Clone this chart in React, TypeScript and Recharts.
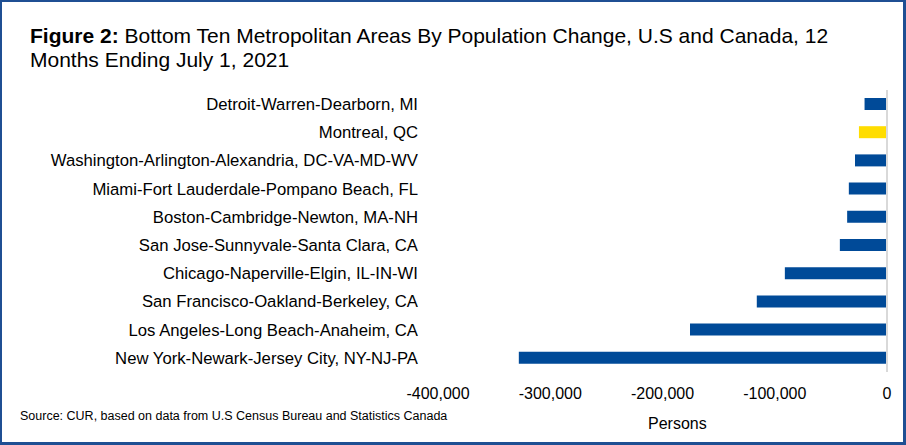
import { BarChart, Bar, XAxis, YAxis, Cell, ReferenceLine } from 'recharts';

const metros = [
  'Detroit-Warren-Dearborn, MI',
  'Montreal, QC',
  'Washington-Arlington-Alexandria, DC-VA-MD-WV',
  'Miami-Fort Lauderdale-Pompano Beach, FL',
  'Boston-Cambridge-Newton, MA-NH',
  'San Jose-Sunnyvale-Santa Clara, CA',
  'Chicago-Naperville-Elgin, IL-IN-WI',
  'San Francisco-Oakland-Berkeley, CA',
  'Los Angeles-Long Beach-Anaheim, CA',
  'New York-Newark-Jersey City, NY-NJ-PA',
];

const change = [-20000, -25000, -28500, -34000, -35500, -42000, -91000, -116000, -175500, -328000];

const canadian = ['Montreal, QC'];

const xTicks = [-400000, -300000, -200000, -100000, 0];

const data = metros.map((name, i) => ({ name, change: change[i] }));

const font = 'Arial, "Liberation Sans", sans-serif';

export default function App() {
  return (
    <div
      style={{
        position: 'absolute',
        left: 0,
        top: 0,
        width: 906,
        height: 445,
        boxSizing: 'border-box',
        border: '2px solid #1F4F93',
        borderRightWidth: 3,
        borderBottomWidth: 3,
        background: '#fff',
        fontFamily: font,
        overflow: 'hidden',
      }}
    >
      <div style={{ position: 'absolute', left: -2, top: -1 }}>
        <BarChart
          width={906}
          height={445}
          data={data}
          layout="vertical"
          margin={{ top: 89, right: 19, left: 0, bottom: 44 }}
          barSize={12}
        >
          <XAxis
            type="number"
            domain={[-400000, 0]}
            ticks={xTicks}
            axisLine={false}
            tickLine={false}
            tickSize={0}
            tickMargin={16}
            height={30}
            tick={{ fontSize: 16, fill: '#000', fontFamily: font }}
            tickFormatter={(v: number) => v.toLocaleString('en-US')}
          />
          <YAxis
            type="category"
            dataKey="name"
            width={438}
            axisLine={false}
            tickLine={false}
            tickSize={0}
            tickMargin={20}
            interval={0}
            tick={{ fontSize: 16.7, fill: '#000', fontFamily: font }}
          />
          <Bar dataKey="change" isAnimationActive={false}>
            {data.map((d, i) => (
              <Cell key={i} fill={canadian.includes(d.name) ? '#FFDD00' : '#004A98'} />
            ))}
          </Bar>
          <ReferenceLine x={0} stroke="#D9D9D9" strokeWidth={2} ifOverflow="visible" />
        </BarChart>
      </div>
      <div
        style={{
          position: 'absolute',
          left: 28,
          top: 22,
          fontSize: 21,
          lineHeight: '24px',
          color: '#000',
          whiteSpace: 'nowrap',
        }}
      >
        <b>Figure 2:</b> Bottom Ten Metropolitan Areas By Population Change, U.S and Canada, 12
        <br />
        Months Ending July 1, 2021
      </div>
      <div
        style={{
          position: 'absolute',
          left: 18,
          top: 406,
          fontSize: 12.5,
          lineHeight: '16px',
          color: '#000',
          whiteSpace: 'nowrap',
        }}
      >
        Source: CUR, based on data from U.S Census Bureau and Statistics Canada
      </div>
      <div
        style={{
          position: 'absolute',
          left: 646,
          top: 412,
          fontSize: 16,
          lineHeight: '20px',
          color: '#000',
        }}
      >
        Persons
      </div>
    </div>
  );
}
